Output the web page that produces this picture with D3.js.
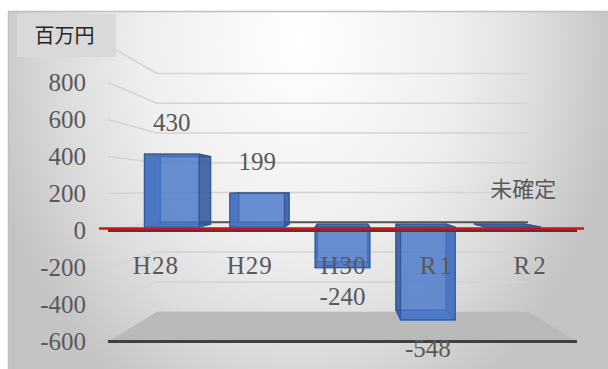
<!DOCTYPE html>
<html><head><meta charset="utf-8">
<script src="https://cdn.jsdelivr.net/npm/d3@7"></script>
<style>html,body{margin:0;padding:0;background:#fff;}svg{display:block;}</style>
</head><body>
<svg id="chart" width="608" height="369"></svg>
<script>
const categories = ["H28", "H29", "H30", "R1", "R2"];
const values = [430, 199, -240, -548, 0];
const valueLabels = ["430", "199", "-240", "-548", "未確定"];
const yTickValues = [800, 600, 400, 200, 0, -200, -400, -600];
const gridValues = [1000, 800, 600, 400, 200, 0, -200, -400];
const unitLabel = "百万円";

const svg = d3.select("#chart");
const W = 608, H = 369;

// background
const defs = svg.append("defs");
const rg = defs.append("radialGradient").attr("id", "bg")
  .attr("gradientUnits", "userSpaceOnUse")
  .attr("cx", 300).attr("cy", 40).attr("r", 320)
  .attr("gradientTransform", "translate(300,40) scale(1,1.3) translate(-300,-40)");
rg.append("stop").attr("offset", 0).attr("stop-color", "#ffffff");
rg.append("stop").attr("offset", 0.5).attr("stop-color", "#eeeeee");
rg.append("stop").attr("offset", 0.75).attr("stop-color", "#dcdcdc");
rg.append("stop").attr("offset", 0.92).attr("stop-color", "#cbcbcb");
rg.append("stop").attr("offset", 1).attr("stop-color", "#c4c4c4");
svg.append("rect").attr("x", 8.5).attr("y", 11.5).attr("width", W).attr("height", H)
  .attr("fill", "url(#bg)").attr("stroke", "#c0c0c0").attr("stroke-width", 1.5);

// scales
const x = d3.scaleBand().domain(categories).range([108, 577]);
const y = d3.scaleLinear().domain([-600, 1000]).range([341.5, 45.5]);
const VX = (x.range()[0] + x.range()[1]) / 2, VY = 188.5, KX = 0.209, KY = 0.195;
const proj = (px, py, d) => [VX + (px - VX) * (1 - KX * d), VY + (py - VY) * (1 - KY * d)];
const poly = pts => "M" + pts.map(p => p[0].toFixed(2) + "," + p[1].toFixed(2)).join("L") + "Z";

const xL = x.range()[0], xR = x.range()[1];

// gridlines: back wall + left side wall
const grid = svg.append("g").attr("fill", "none").attr("stroke", "#d4d4d4").attr("stroke-width", 1.5);
gridValues.forEach(v => {
  const a = [xL, y(v)], b = proj(xL, y(v), 1), c = proj(xR, y(v), 1);
  grid.append("path").attr("d", `M${a[0]},${a[1]}L${b[0]},${b[1]}L${c[0]},${c[1]}`);
});

// floor at minimum
const ymin = y(-600);
svg.append("path").attr("d", poly([[xL, ymin], [xR, ymin], proj(xR, ymin, 1), proj(xL, ymin, 1)]))
  .attr("fill", "#b9b9b9");
svg.append("line").attr("x1", xL).attr("x2", xR).attr("y1", ymin).attr("y2", ymin)
  .attr("stroke", "#404040").attr("stroke-width", 3);

// back zero line
const b0 = proj(xL, y(0), 1), b1 = proj(xR, y(0), 1);
svg.append("line").attr("x1", b0[0]).attr("x2", b1[0]).attr("y1", b0[1]).attr("y2", b1[1])
  .attr("stroke", "#555").attr("stroke-width", 2);

// bars (3D, semi-transparent)
const D0 = 0.43, D1 = 0.78;
const hw = x.bandwidth() * 0.32;
const bars = svg.append("g");
values.forEach((v, i) => {
  const cx = x(categories[i]) + x.bandwidth() / 2;
  const X0 = cx - hw, X1 = cx + hw;
  const Yt = y(Math.max(v, 0)), Yb = y(Math.min(v, 0));
  const f = d => ({tl: proj(X0, Yt, d), tr: proj(X1, Yt, d), br: proj(X1, Yb, d), bl: proj(X0, Yb, d)});
  const F = f(D0), B = f(D1);
  const g = bars.append("g").attr("stroke", "#2f5597").attr("stroke-width", 1.2).attr("stroke-linejoin", "round");
  const faces = [
    {pts: [B.tl, B.tr, B.br, B.bl], fill: "#4472c4", op: 0.35},
    {pts: [F.tl, B.tl, B.bl, F.bl], fill: "#2f5597", op: 0.8},
    {pts: [F.tr, B.tr, B.br, F.br], fill: "#2f5597", op: 0.8},
    {pts: [F.tl, F.tr, B.tr, B.tl], fill: "#3a63b0", op: 0.85},
    {pts: [F.bl, F.br, B.br, B.bl], fill: "#3a63b0", op: 0.7},
    {pts: [F.tl, F.tr, F.br, F.bl], fill: "#4a78cc", op: 0.72}
  ];
  faces.forEach(fc => g.append("path").attr("d", poly(fc.pts))
    .attr("fill", fc.fill).attr("fill-opacity", fc.op).attr("stroke-opacity", 0.8));
});

// front axis line at zero
svg.append("line").attr("x1", xL).attr("x2", xR).attr("y1", y(0)).attr("y2", y(0))
  .attr("stroke", "#404040").attr("stroke-width", 3);
// red reference line
svg.append("line").attr("x1", 99).attr("x2", 584).attr("y1", y(0) - 2).attr("y2", y(0) - 2)
  .attr("stroke", "#ff0000").attr("stroke-width", 2.5);

const serif = "'Liberation Serif', 'Times New Roman', serif";
const cjk = "'Noto Sans CJK JP', 'Noto Sans', sans-serif";

// y axis labels
svg.append("g").selectAll("text").data(yTickValues).join("text")
  .attr("x", 86).attr("y", d => y(d)).attr("dy", "0.34em")
  .attr("text-anchor", "end").attr("font-family", serif).attr("font-size", 25)
  .attr("fill", "#595959").text(d => d);

// category labels
svg.append("g").selectAll("text").data(categories).join("text")
  .attr("x", d => x(d) + x.bandwidth() / 2 + 1).attr("y", y(-200) - 2).attr("dy", "0.34em")
  .attr("text-anchor", "middle").attr("font-family", serif).attr("font-size", 25)
  .attr("letter-spacing", d => d.startsWith("R") ? 3 : 1)
  .attr("fill", "#595959").text(d => d);

// data labels
svg.append("g").selectAll("text").data(values).join("text")
  .attr("x", (v, i) => {
    const cx = x(categories[i]) + x.bandwidth() / 2;
    const p = proj(cx, y(v), D0)[0];
    return i === values.length - 1 ? p + 10 : p;
  })
  .attr("y", (v, i) => {
    const p = proj(0, y(v), D0)[1];
    if (i === values.length - 1) return p - 30;
    return v >= 0 ? p - 23 : p + 37;
  })
  .attr("text-anchor", "middle")
  .attr("font-family", (v, i) => isNaN(+valueLabels[i]) ? cjk : serif)
  .attr("font-size", (v, i) => isNaN(+valueLabels[i]) ? 22 : 25)
  .attr("fill", "#595959").text((v, i) => valueLabels[i]);

// unit box
svg.append("rect").attr("x", 17).attr("y", 14).attr("width", 99).attr("height", 43).attr("fill", "#d9d9d9");
svg.append("text").attr("x", 64.5).attr("y", 36).attr("dy", "0.36em").attr("text-anchor", "middle")
  .attr("font-family", cjk).attr("font-size", 20).attr("fill", "#262626").text(unitLabel);
</script>
</body></html>
